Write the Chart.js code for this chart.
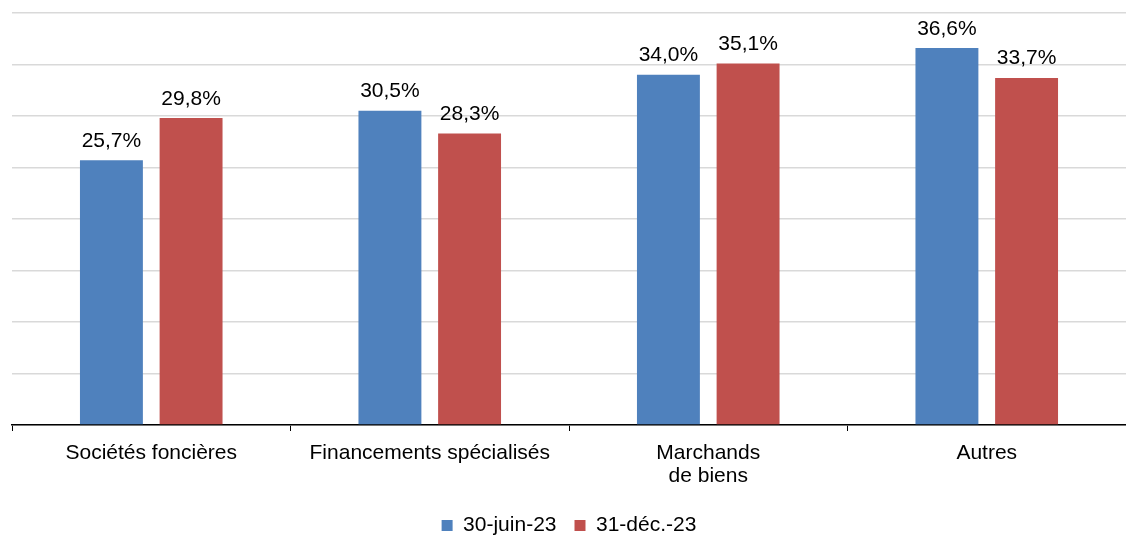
<!DOCTYPE html>
<html>
<head>
<meta charset="utf-8">
<script src="https://cdn.jsdelivr.net/npm/chart.js@4/dist/chart.umd.min.js"></script>
<style>
  html, body { margin: 0; padding: 0; background: #fff; }
  #wrap { width: 1126px; height: 536px; }
</style>
</head>
<body>
<div id="wrap"><canvas id="myChart" width="1126" height="536"></canvas></div>
<script>
var categories = ['Sociétés foncières', 'Financements spécialisés', ['Marchands', 'de biens'], 'Autres'];
var seriesNames = ['30-juin-23', '31-déc.-23'];
var juin23 = [25.7, 30.5, 34.0, 36.6];
var dec23 = [29.8, 28.3, 35.1, 33.7];

var fontFamily = "'Liberation Sans', Arial, sans-serif";
var font = { family: fontFamily, size: 21, lineHeight: 1.1 };

// value labels above each bar
var labelPlugin = {
  id: 'barLabels',
  afterDatasetsDraw: function(chart) {
    var ctx = chart.ctx;
    ctx.save();
    ctx.font = '21px ' + fontFamily;
    ctx.fillStyle = '#000';
    ctx.textAlign = 'center';
    ctx.textBaseline = 'alphabetic';
    chart.data.datasets.forEach(function(ds, i) {
      chart.getDatasetMeta(i).data.forEach(function(bar, j) {
        var txt = ds.data[j].toFixed(1).replace('.', ',') + '%';
        ctx.fillText(txt, bar.x, bar.y - 13.5);
      });
    });
    ctx.restore();
  }
};

var ctx = document.getElementById('myChart').getContext('2d');
var chart = new Chart(ctx, {
  type: 'bar',
  data: {
    labels: categories,
    datasets: [{
      label: seriesNames[0],
      data: juin23,
      backgroundColor: '#4F81BD',
      barPercentage: 0.79,
      categoryPercentage: 0.572
    }, {
      label: seriesNames[1],
      data: dec23,
      backgroundColor: '#C0504D',
      barPercentage: 0.79,
      categoryPercentage: 0.572
    }]
  },
  options: {
    responsive: false,
    animation: false,
    layout: { padding: { left: 12, top: 13, right: 0, bottom: -10 } },
    scales: {
      x: {
        grid: { display: true, drawOnChartArea: false, offset: true, tickLength: 6, color: '#000', lineWidth: 1 },
        border: { display: true, color: '#000', width: 1.5 },
        ticks: { color: '#000', font: font, padding: 10.5, maxRotation: 0 },
        afterFit: function(s) { s.height = 72; }
      },
      y: {
        min: 0,
        max: 40,
        ticks: { display: false, stepSize: 5 },
        grid: { color: '#d9d9d9', lineWidth: 1.5, drawTicks: false },
        border: { display: false },
        afterFit: function(s) { s.width = 0; }
      }
    },
    plugins: {
      legend: {
        position: 'bottom',
        labels: { color: '#000', font: { family: fontFamily, size: 21 }, boxWidth: 11, boxHeight: 11, padding: 18 }
      },
      tooltip: { enabled: false }
    }
  },
  plugins: [labelPlugin]
});
</script>
</body>
</html>
